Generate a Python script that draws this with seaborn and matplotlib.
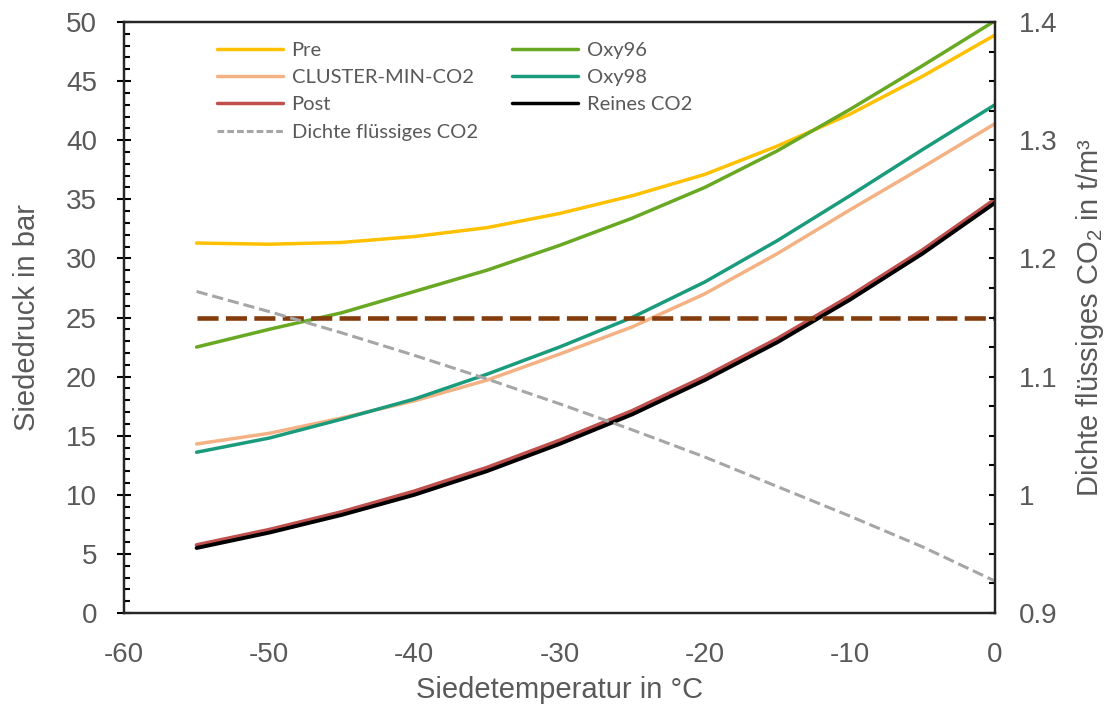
import matplotlib
matplotlib.use("Agg")
import matplotlib.pyplot as plt
import seaborn as sns
from matplotlib.ticker import MultipleLocator, FuncFormatter
from matplotlib.lines import Line2D

# ---- data ----
temps = [-55, -50, -45, -40, -35, -30, -25, -20, -15, -10, -5, 0]
pre = [31.3, 31.2, 31.35, 31.85, 32.6, 33.8, 35.3, 37.1, 39.5, 42.2, 45.4, 48.9]
cluster = [14.3, 15.2, 16.5, 17.95, 19.7, 21.9, 24.2, 27.0, 30.4, 34.1, 37.7, 41.4]
post = [5.75, 7.05, 8.55, 10.3, 12.3, 14.6, 17.1, 20.0, 23.2, 26.8, 30.7, 35.0]
oxy96 = [22.5, 24.0, 25.4, 27.2, 29.0, 31.1, 33.4, 36.0, 39.1, 42.6, 46.3, 50.1]
oxy98 = [13.6, 14.8, 16.4, 18.1, 20.2, 22.5, 25.0, 28.0, 31.5, 35.3, 39.2, 43.0]
reines = [5.5, 6.8, 8.3, 10.0, 12.0, 14.3, 16.8, 19.7, 22.9, 26.5, 30.4, 34.7]
density = [1.172, 1.155, 1.137, 1.118, 1.098, 1.077, 1.055, 1.032, 1.007, 0.982, 0.956, 0.927]
limit_x = [-55, 0]
limit_y = [25, 25]

labels_col1 = ["Pre", "CLUSTER-MIN-CO2", "Post", "Dichte flüssiges CO2"]
labels_col2 = ["Oxy96", "Oxy98", "Reines CO2"]

sns.set_style("white")
plt.rcParams['font.family'] = ['Liberation Sans', 'DejaVu Sans']
plt.rcParams['axes.unicode_minus'] = False
plt.rcParams['mathtext.fontset'] = 'custom'
plt.rcParams['mathtext.rm'] = 'Liberation Sans'
plt.rcParams['mathtext.it'] = 'Liberation Sans:italic'
plt.rcParams['mathtext.default'] = 'regular'

TXT = "#595959"
c_pre, c_cl, c_post = "#FFC000", "#F4B183", "#C0504D"
c_o96, c_o98, c_re = "#68A823", "#1A9B7B", "#000000"
c_dens, c_lim = "#A6A6A6", "#843C0C"

fig = plt.figure(figsize=(11.05, 7.11), dpi=100)
ax = fig.add_axes([124 / 1105, 98 / 711, 871 / 1105, 591 / 711])

lw = 2.5
series = [
    (pre, c_pre, lw),
    (cluster, c_cl, lw),
    (post, c_post, 2.8),
    (oxy96, c_o96, lw),
    (oxy98, c_o98, lw),
    (reines, c_re, 2.8),
]
for vals, col, w in series:
    sns.lineplot(x=temps, y=vals, ax=ax, color=col, linewidth=w, legend=False)
for ln in ax.lines:
    ln.set_solid_joinstyle('round')
ax.lines[5].set_zorder(2.6)

sns.lineplot(x=limit_x, y=limit_y, ax=ax, color=c_lim, linewidth=3.3, legend=False)
lim_line = ax.lines[-1]
lim_line.set_dashes([4.6, 1.6])
lim_line.set_dash_capstyle('butt')
lim_line.set_zorder(3)

ax.set_xlim(-60, 0)
ax.set_ylim(0, 50)
ax.xaxis.set_major_locator(MultipleLocator(10))
ax.xaxis.set_minor_locator(MultipleLocator(1))
ax.yaxis.set_major_locator(MultipleLocator(5))
ax.yaxis.set_minor_locator(MultipleLocator(1))
ax.tick_params(axis='both', which='major', direction='inout', length=10, width=1.5,
               colors='black', labelcolor=TXT, labelsize=20)
ax.tick_params(axis='x', which='major', pad=16)
ax.tick_params(axis='y', which='major', pad=14.5)
ax.tick_params(axis='both', which='minor', direction='in', length=4, width=1.5, colors='black')
ax.tick_params(top=False, right=False, which='both')
for s in ax.spines.values():
    s.set_linewidth(1.6)
    s.set_color('black')
ax.set_xlabel("Siedetemperatur in °C", fontsize=21, color=TXT, labelpad=6)
ax.set_ylabel("Siededruck in bar", fontsize=21, color=TXT, labelpad=18)

ax2 = ax.twinx()
sns.lineplot(x=temps, y=density, ax=ax2, color=c_dens, linewidth=2.2, legend=False)
dline = ax2.lines[-1]
dline.set_dashes([3.7, 1.6])
dline.set_dash_capstyle('butt')
ax2.set_ylim(0.9, 1.4)
ax2.yaxis.set_major_locator(MultipleLocator(0.1))
ax2.yaxis.set_minor_locator(MultipleLocator(0.025))
ax2.yaxis.set_major_formatter(FuncFormatter(lambda v, p: f"{v:.1f}".rstrip('0').rstrip('.')))
ax2.tick_params(axis='y', which='both', direction='in', length=4, width=1.5,
                colors='black', labelcolor=TXT, labelsize=20, pad=17)
ax2.tick_params(left=False, which='both')
for s in ax2.spines.values():
    s.set_linewidth(1.6)
ax2.set_ylabel("Dichte flüssiges CO$_2$ in t/m³", fontsize=21, color=TXT, labelpad=12)
ax2.grid(False)
ax.grid(False)

# legends (two columns placed individually)
lf = {'family': ['Lato', 'DejaVu Sans'], 'size': 14.5}
h1 = [Line2D([], [], color=c_pre, lw=lw), Line2D([], [], color=c_cl, lw=lw),
      Line2D([], [], color=c_post, lw=lw),
      Line2D([], [], color=c_dens, lw=2.2, dashes=[2.2, 1.0])]
h2 = [Line2D([], [], color=c_o96, lw=lw), Line2D([], [], color=c_o98, lw=lw),
      Line2D([], [], color=c_re, lw=lw)]
common = dict(frameon=False, loc='upper left', borderpad=0, borderaxespad=0,
              handlelength=3.3, handletextpad=0.4, labelspacing=0.5, prop=lf,
              labelcolor=TXT)
ytop = (613 - 42) / 591
leg1 = ax2.legend(h1, labels_col1, bbox_to_anchor=((217 - 124) / 871, ytop), **common)
ax2.add_artist(leg1)
leg2 = ax2.legend(h2, labels_col2, bbox_to_anchor=((512 - 124) / 871, ytop), **common)

fig.savefig("out.png", dpi=100)
